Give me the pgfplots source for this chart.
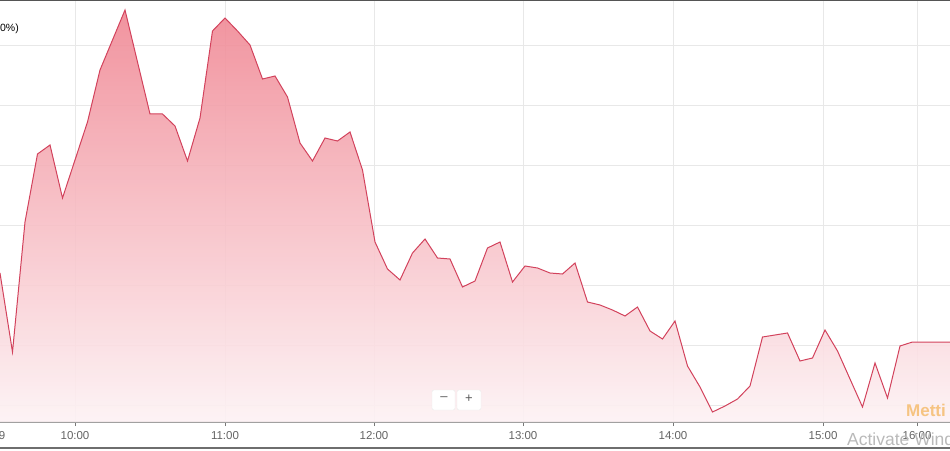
\documentclass[border=0pt]{standalone}
\usepackage{pgfplots}
\pgfplotsset{compat=1.18}
\usepackage{fontspec}
\setmainfont{Liberation Sans}
\definecolor{linecol}{RGB}{210,66,92}
\definecolor{topcol}{RGB}{240,136,148}
\definecolor{botcol}{RGB}{253,242,244}
\definecolor{gridcol}{RGB}{232,232,232}
\definecolor{labcol}{RGB}{100,100,100}
\definecolor{wmorange}{RGB}{246,196,130}
\begin{document}
\begin{tikzpicture}
\begin{axis}[
  name=ax,
  x=1pt, y=1pt,
  xmin=0, xmax=950, ymin=0, ymax=422,
  clip=false,
  axis x line=bottom, axis y line=left,
  x axis line style={-, draw={rgb,255:red,150;green,150;blue,150}, line width=1.2pt},
  y axis line style={draw=none},
  ytick={17,77,137,197,257,317,377},
  yticklabels={},
  ytick style={draw=none},
  xtick={75,225,374,523,673,823,917},
  xticklabels={10:00,11:00,12:00,13:00,14:00,15:00,16:00},
  xtick style={draw={rgb,255:red,120;green,120;blue,120}, line width=0.8pt},
  tick align=outside,
  major tick length=4pt,
  xticklabel style={font=\fontsize{11.5}{13}\selectfont, text=labcol, yshift=-2pt},
  xmajorgrids, ymajorgrids,
  major grid style={draw=gridcol, line width=0.8pt},
]
\addplot[draw=none, top color=topcol, bottom color=botcol, fill opacity=0.9] coordinates {
(0,149)(12.5,70)(25,200)(37.5,268)(50,277)(62.5,224)(75,262)(87.5,300)(100,352)(112.5,382)
(125,412)(137.5,360)(150,308)(162.5,308)(175,296)(187.5,261)(200,304)(212.5,391)(225,404)(237.5,391)
(250,377)(262.5,343)(275,346)(287.5,325)(300,279)(312.5,261)(325,284)(337.5,281)(350,290)(362.5,252)
(375,180)(387.5,153)(400,142)(412.5,169)(425,183)(437.5,164)(450,163)(462.5,135)(475,141)(487.5,174)
(500,180)(512.5,140)(525,156)(537.5,154)(550,149)(562.5,148)(575,159)(587.5,120)(600,117)(612.5,112)
(625,106)(637.5,115)(650,91)(662.5,83)(675,101)(687.5,56)(700,35)(712.5,10)(725,16)(737.5,23)
(750,36)(762.5,85)(775,87)(787.5,89)(800,61)(812.5,64)(825,92)(837.5,71)(850,43)(862.5,15)
(875,59)(887.5,24)(900,76)(912.5,80)(925,80)(937.5,80)(950,80)
} \closedcycle;
\addplot[linecol, line width=1pt, mark=none] coordinates {
(0,149)(12.5,70)(25,200)(37.5,268)(50,277)(62.5,224)(75,262)(87.5,300)(100,352)(112.5,382)
(125,412)(137.5,360)(150,308)(162.5,308)(175,296)(187.5,261)(200,304)(212.5,391)(225,404)(237.5,391)
(250,377)(262.5,343)(275,346)(287.5,325)(300,279)(312.5,261)(325,284)(337.5,281)(350,290)(362.5,252)
(375,180)(387.5,153)(400,142)(412.5,169)(425,183)(437.5,164)(450,163)(462.5,135)(475,141)(487.5,174)
(500,180)(512.5,140)(525,156)(537.5,154)(550,149)(562.5,148)(575,159)(587.5,120)(600,117)(612.5,112)
(625,106)(637.5,115)(650,91)(662.5,83)(675,101)(687.5,56)(700,35)(712.5,10)(725,16)(737.5,23)
(750,36)(762.5,85)(775,87)(787.5,89)(800,61)(812.5,64)(825,92)(837.5,71)(850,43)(862.5,15)
(875,59)(887.5,24)(900,76)(912.5,80)(925,80)(937.5,80)(950,80)
};
% top and bottom frame lines
\draw[draw={rgb,255:red,85;green,85;blue,85}, line width=1.6pt] (axis cs:0,422) -- (axis cs:950,422);
\draw[draw={rgb,255:red,110;green,110;blue,110}, line width=1.2pt] (axis cs:0,-26) -- (axis cs:950,-26);
% partial texts at the left edge
\node[anchor=east, inner sep=0pt, font=\fontsize{10.5}{12}\selectfont] at (axis cs:19,393) {00\%)};
\node[anchor=east, inner sep=0pt, font=\fontsize{11.5}{13}\selectfont, text=labcol] at (axis cs:5.5,-14) {9};
% zoom buttons
\draw[draw={rgb,255:red,235;green,235;blue,235}, fill=white, rounded corners=2pt] (axis cs:432,12) rectangle (axis cs:455,32);
\draw[draw={rgb,255:red,235;green,235;blue,235}, fill=white, rounded corners=2pt] (axis cs:457,12) rectangle (axis cs:481,32);
\node[inner sep=0pt, font=\fontsize{13}{15}\selectfont, text={rgb,255:red,90;green,90;blue,90}] at (axis cs:444,23) {\textendash};
\node[inner sep=0pt, font=\fontsize{13}{15}\selectfont, text={rgb,255:red,90;green,90;blue,90}] at (axis cs:469,23) {+};
% watermarks
\node[anchor=west, inner sep=0pt, font=\bfseries\fontsize{17}{19}\selectfont, text=wmorange] at (axis cs:906,12) {Metti};
\node[anchor=west, inner sep=0pt, font=\fontsize{17.5}{19}\selectfont, text={rgb,255:red,185;green,185;blue,185}] at (axis cs:847,-17) {Activate Windows};
\end{axis}
\pgfresetboundingbox
\path[use as bounding box] ([yshift=-28pt]ax.south west) rectangle (ax.north east);
\end{tikzpicture}
\end{document}
